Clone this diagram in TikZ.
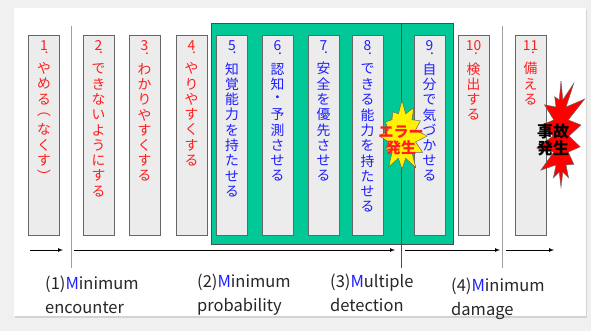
\documentclass[tikz,border=0pt]{standalone}
\usepackage{fontspec}
\setmainfont{Noto Sans CJK JP}
\usetikzlibrary{shapes.symbols,shadows}

\definecolor{midori}{RGB}{0,200,150}
\definecolor{aka}{RGB}{255,30,30}
\definecolor{ao}{RGB}{30,30,255}

% one character per line, for the vertical labels
\def\tatekana#1{\ifx#1\relax\else\hbox to 16pt{\hss\vbox to 15.3pt{\vss\hbox{#1}\vss}\hss}\expandafter\tatekana\fi}
\newcommand\tate[2]{\vbox{\offinterlineskip
  \hbox to 16pt{\hss#1\hss}\kern2pt
  \hbox to 16pt{\hss\hskip5pt.\hss}\kern7pt
  \expandafter\tatekana#2\relax}}

\tikzset{hako/.style={draw=gray!80!black, fill=gray!15, line width=.8pt, minimum width=31pt, minimum height=200pt, anchor=north, inner sep=0pt}}
\tikzset{tatemoji/.style={anchor=north, inner sep=0pt, font=\fontsize{13.8}{15}\selectfont}}
\tikzset{kugiri/.style={gray!75, line width=1pt}}
\tikzset{yajirushi/.style={line width=.7pt, -latex}}
\tikzset{setsumei/.style={anchor=west, align=left, inner sep=0pt, text=black!85, font=\fontsize{16.5}{24}\selectfont}}
\tikzset{bakuhatsu/.style={starburst, draw=black!60, line width=.5pt, inner sep=0pt}}

\begin{document}
\begin{tikzpicture}[x=1pt, y=-1pt]
\useasboundingbox (0,0) rectangle (591,331);
\fill[gray!12] (0,0) rectangle (591,331);
\fill[white, drop shadow={shadow xshift=1pt, shadow yshift=-2pt, opacity=.25}] (14,8) rectangle (586,316);

% green group and dividers
\draw[fill=midori, draw=gray!60!black, line width=.8pt] (211,23) rectangle (453,244);
\draw[kugiri] (71,26) -- (71,268);
\draw[kugiri] (502,26) -- (502,268);
\draw[black!70, line width=.8pt] (401,23) -- (401,268);

% the eleven columns
\foreach \x/\n/\c/\s in {44/1/aka/{やめる︵なくす︶}, 98.5/2/aka/{できないようにする}, 144.5/3/aka/{わかりやすくする}, 191.5/4/aka/{やりやすくする}, 232/5/ao/{知覚能力を持たせる}, 277.5/6/ao/{認知・予測させる}, 323.5/7/ao/{安全を優先させる}, 367.5/8/ao/{できる能力を持たせる}, 429.5/9/ao/{自分で気づかせる}, 473.5/10/aka/{検出する}, 530.5/11/aka/{備える}}
{
  \node[hako] (b\n) at (\x,35) {};
  \node[tatemoji, text=\c] (t\n) at ([yshift=-5pt]b\n.north) {\tate{\n}{\s}};
}

% error / accident
\node[bakuhatsu, fill=yellow, starburst points=12, starburst point height=14pt, random starburst=7, minimum width=56pt, minimum height=74pt] (err) at (402,136) {};
\node[font=\fontsize{15}{16}\selectfont\bfseries, text=aka, align=center, inner sep=0pt] (errtxt) at (401,140) {エラー\\発生};
\node[bakuhatsu, fill=red, starburst points=14, starburst point height=26pt, random starburst=31, minimum width=68pt, minimum height=126pt] (jiko) at (561,136) {};
\node[font=\fontsize{16}{17}\selectfont\bfseries, text=black, align=center, inner sep=0pt] (jikotxt) at (553,140) {事故\\発生};

% arrows
\coordinate (a1) at (30,250); \coordinate (a2) at (63,250);
\coordinate (a3) at (74,250); \coordinate (a4) at (395,250);
\coordinate (a5) at (405,250); \coordinate (a6) at (500,250);
\coordinate (a7) at (506,250); \coordinate (a8) at (554,250);
\draw[yajirushi] (a1) -- (a2);
\draw[yajirushi] (a3) -- (a4);
\draw[yajirushi] (a5) -- (a6);
\draw[yajirushi] (a7) -- (a8);

\node[setsumei] (m1) at (45,295) {(1)\textcolor{ao}{M}inimum\\encounter};
\node[setsumei] (m2) at (197,295) {(2)\textcolor{ao}{M}inimum\\probability};
\node[setsumei] (m3) at (330,292.5) {(3)\textcolor{ao}{M}ultiple\\detection};
\node[setsumei] (m4) at (451,299) {(4)\textcolor{ao}{M}inimum\\damage};
\end{tikzpicture}
\end{document}
